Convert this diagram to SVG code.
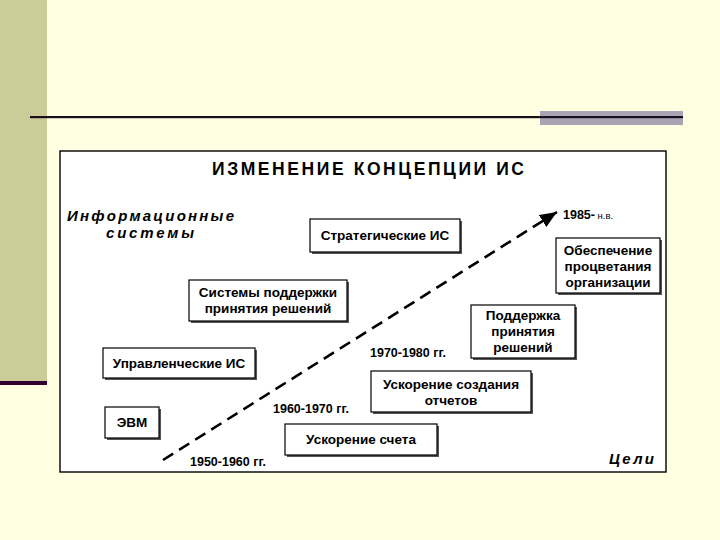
<svg xmlns="http://www.w3.org/2000/svg" width="720" height="540" viewBox="0 0 720 540">
<defs>
<style>
.box{fill:#ffffff;stroke:#000000;stroke-width:1.2}
.sh{fill:#555555}
.t{font-family:"Liberation Sans",Arial,sans-serif;font-weight:bold;font-size:13.5px;fill:#000000;text-anchor:middle}
.d{font-family:"Liberation Sans",Arial,sans-serif;font-weight:bold;font-size:12.5px;fill:#000000}
.it{font-family:"Liberation Sans",Arial,sans-serif;font-weight:bold;font-style:italic;font-size:15px;fill:#000000}
</style>
<marker id="ah" markerUnits="userSpaceOnUse" markerWidth="20" markerHeight="16" refX="17" refY="7" orient="auto">
<path d="M0,0 L17,7 L0,14 Z" fill="#000000"/>
</marker>
</defs>
<rect x="0" y="0" width="720" height="540" fill="#FFFFE1"/>
<rect x="0" y="0" width="47" height="383" fill="#CCCC99"/>
<rect x="0" y="381" width="47" height="4" fill="#330033"/>
<rect x="540" y="111" width="143" height="14" fill="#A9A4B4"/>
<rect x="30" y="116" width="653" height="2.2" fill="#1A0F1A"/>

<rect x="60" y="151" width="606" height="321" fill="#ffffff" stroke="#000000" stroke-width="1.4"/>

<text x="212" y="175" font-family="Liberation Sans,Arial,sans-serif" font-weight="bold" font-size="17.5" textLength="312" lengthAdjust="spacing">ИЗМЕНЕНИЕ КОНЦЕПЦИИ ИС</text>
<text class="it" x="67" y="221" textLength="167" lengthAdjust="spacing">Информационные</text>
<text class="it" x="106" y="238" textLength="88" lengthAdjust="spacing">системы</text>
<text class="it" x="609" y="464" textLength="45" lengthAdjust="spacing">Цели</text>

<g id="connectors">
<line x1="163" y1="460" x2="557" y2="212" stroke="#000000" stroke-width="2.6" stroke-dasharray="12,7" marker-end="url(#ah)"/>
</g>

<g id="n-strat">
<rect class="sh" x="312" y="221" width="150" height="33"/>
<rect class="box" x="310" y="219" width="150" height="33"/>
<text class="t" x="385" y="240">Стратегические ИС</text>
</g>
<g id="n-sppr">
<rect class="sh" x="191" y="282" width="158" height="41"/>
<rect class="box" x="189" y="280" width="158" height="41"/>
<text class="t" x="268" y="297">Системы поддержки</text>
<text class="t" x="268" y="313">принятия решений</text>
</g>
<g id="n-upr">
<rect class="sh" x="105" y="350" width="152" height="30"/>
<rect class="box" x="103" y="348" width="152" height="30"/>
<text class="t" x="179" y="368">Управленческие ИС</text>
</g>
<g id="n-evm">
<rect class="sh" x="107" y="409" width="54" height="31"/>
<rect class="box" x="105" y="407" width="54" height="31"/>
<text class="t" x="132" y="427">ЭВМ</text>
</g>
<g id="n-schet">
<rect class="sh" x="287" y="426" width="152" height="31"/>
<rect class="box" x="285" y="424" width="152" height="31"/>
<text class="t" x="361" y="444">Ускорение счета</text>
</g>
<g id="n-otch">
<rect class="sh" x="373" y="373" width="160" height="41"/>
<rect class="box" x="371" y="371" width="160" height="41"/>
<text class="t" x="451" y="389">Ускорение создания</text>
<text class="t" x="451" y="405">отчетов</text>
</g>
<g id="n-podd">
<rect class="sh" x="473" y="307" width="104" height="53"/>
<rect class="box" x="471" y="305" width="104" height="53"/>
<text class="t" x="523" y="320">Поддержка</text>
<text class="t" x="523" y="336">принятия</text>
<text class="t" x="523" y="352">решений</text>
</g>
<g id="n-obesp">
<rect class="sh" x="558" y="240" width="104" height="55"/>
<rect class="box" x="556" y="238" width="104" height="55"/>
<text class="t" x="608" y="255">Обеспечение</text>
<text class="t" x="608" y="271">процветания</text>
<text class="t" x="608" y="287">организации</text>
</g>

<text class="d" x="190" y="466">1950-1960 гг.</text>
<text class="d" x="273" y="413">1960-1970 гг.</text>
<text class="d" x="370" y="357">1970-1980 гг.</text>
<text class="d" x="563" y="219" font-size="13">1985-<tspan font-weight="normal" font-size="9.5"> н.в.</tspan></text>
</svg>
